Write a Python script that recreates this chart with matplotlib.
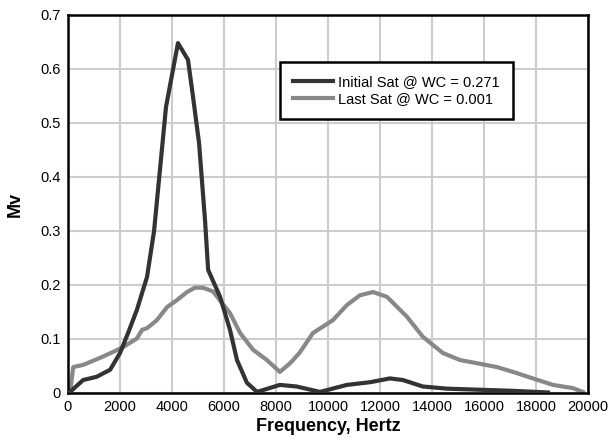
import matplotlib.pyplot as plt

plt.rcParams['font.family'] = ['Liberation Sans', 'DejaVu Sans']

# Initial Sat @ WC = 0.271
init_f = [80, 580, 1100, 1620, 2000, 2310, 2650, 3040, 3310, 3770, 4230, 4615, 4810,
          5040, 5270, 5390, 5850, 6230, 6500, 6880, 7270, 8150, 8800, 9690, 10730,
          11620, 12380, 12880, 13650, 14580, 15850, 17120, 18460]
init_v = [0.002, 0.024, 0.030, 0.043, 0.074, 0.111, 0.154, 0.215, 0.30, 0.53, 0.648, 0.617, 0.548,
          0.463, 0.32, 0.228, 0.178, 0.117, 0.061, 0.019, 0.002, 0.015, 0.012, 0.002, 0.015,
          0.020, 0.027, 0.024, 0.012, 0.008, 0.006, 0.004, 0.001]

# Last Sat @ WC = 0.001
last_f = [80, 200, 580, 1230, 1730, 2120, 2650, 2850, 3040, 3420, 3810, 4190, 4580, 4880,
          5190, 5580, 5920, 6230, 6620, 7120, 7650, 8150, 8540, 8900, 9420, 10190, 10730,
          11230, 11730, 12270, 13040, 13650, 14420, 15080, 15850, 16500, 17120, 17880,
          18650, 19420, 19800]
last_v = [0.0, 0.048, 0.052, 0.065, 0.076, 0.085, 0.101, 0.117, 0.120, 0.135, 0.159, 0.172,
          0.187, 0.195, 0.195, 0.188, 0.167, 0.148, 0.111, 0.080, 0.061, 0.039, 0.055, 0.074,
          0.111, 0.135, 0.163, 0.181, 0.187, 0.178, 0.141, 0.104, 0.074, 0.061, 0.054, 0.048,
          0.039, 0.027, 0.015, 0.009, 0.002]

fig = plt.figure(figsize=(6.09, 4.43), dpi=100)
ax = fig.add_axes([68 / 609, 50 / 443, 520 / 609, 378 / 443])

ax.plot(init_f, init_v, color='#333333', lw=3, label='Initial Sat @ WC = 0.271', zorder=3)
ax.plot(last_f, last_v, color='#888888', lw=3, label='Last Sat @ WC = 0.001', zorder=2)

ax.set_xlim(0, 20000)
ax.set_ylim(0, 0.7)
ax.set_xticks(range(0, 20001, 2000))
ax.set_yticks([0, 0.1, 0.2, 0.3, 0.4, 0.5, 0.6, 0.7])
ax.set_yticklabels(['0', '0.1', '0.2', '0.3', '0.4', '0.5', '0.6', '0.7'])
ax.grid(True, color='#cccccc', lw=1.5)
ax.set_axisbelow(True)
ax.tick_params(length=0, labelsize=10.5, pad=5)
for s in ax.spines.values():
    s.set_linewidth(1.8)

ax.set_xlabel('Frequency, Hertz', fontsize=13, fontweight='bold', labelpad=3)
ax.set_ylabel('Mv', fontsize=13, fontweight='bold', labelpad=12)

leg = ax.legend(loc='upper left', bbox_to_anchor=(0.408, 0.875), fontsize=10.5,
                frameon=True, fancybox=False, handlelength=2.7, borderpad=0.9,
                labelspacing=0.2, handletextpad=0.4, borderaxespad=0)
leg.get_frame().set_edgecolor('black')
leg.get_frame().set_linewidth(1.8)
leg.get_frame().set_alpha(1)

fig.savefig('out.png', dpi=100)
